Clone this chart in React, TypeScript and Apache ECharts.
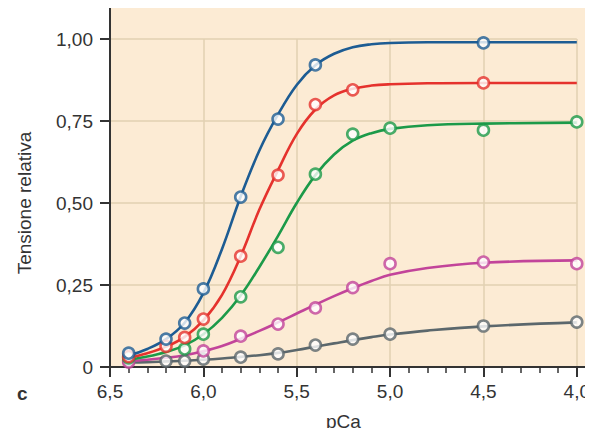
import React, { useEffect, useRef } from "react";
import * as echarts from "echarts";

// Tick labels
const xTickValues = [6.5, 6.0, 5.5, 5.0, 4.5, 4.0];
const yTickValues = [0, 0.25, 0.5, 0.75, 1.0];

// Fitted curve sample positions (pCa) and values
const curvePCa = [6.4, 6.3, 6.2, 6.1, 6.0, 5.9, 5.8, 5.7, 5.6, 5.5, 5.4, 5.3, 5.2, 5.1, 5.0, 4.8, 4.5, 4.0];
const blueCurve = [0.035, 0.055, 0.085, 0.135, 0.225, 0.36, 0.52, 0.66, 0.77, 0.86, 0.92, 0.955, 0.975, 0.984, 0.988, 0.99, 0.99, 0.99];
const redCurve = [0.028, 0.042, 0.062, 0.092, 0.142, 0.22, 0.338, 0.48, 0.6, 0.71, 0.785, 0.828, 0.848, 0.858, 0.862, 0.865, 0.866, 0.866];
const greenCurve = [0.022, 0.032, 0.046, 0.066, 0.1, 0.15, 0.218, 0.305, 0.4, 0.5, 0.585, 0.648, 0.69, 0.713, 0.726, 0.737, 0.742, 0.745];
const magentaCurve = [0.018, 0.022, 0.028, 0.036, 0.048, 0.064, 0.086, 0.11, 0.136, 0.163, 0.19, 0.216, 0.24, 0.262, 0.281, 0.302, 0.318, 0.325];
const grayCurve = [0.014, 0.015, 0.017, 0.019, 0.022, 0.026, 0.031, 0.036, 0.043, 0.052, 0.062, 0.072, 0.082, 0.091, 0.099, 0.111, 0.124, 0.136];

// Measured points
const bluePCa = [6.4, 6.2, 6.1, 6.0, 5.8, 5.6, 5.4, 4.5];
const blueValues = [0.042, 0.085, 0.134, 0.238, 0.518, 0.756, 0.921, 0.988];
const redPCa = [6.4, 6.2, 6.1, 6.0, 5.8, 5.6, 5.4, 5.2, 4.5];
const redValues = [0.032, 0.063, 0.09, 0.146, 0.338, 0.585, 0.8, 0.845, 0.866];
const greenPCa = [6.4, 6.1, 6.0, 5.8, 5.6, 5.4, 5.2, 5.0, 4.5, 4.0];
const greenValues = [0.028, 0.055, 0.1, 0.214, 0.365, 0.588, 0.71, 0.728, 0.722, 0.747];
const magentaPCa = [6.4, 6.0, 5.8, 5.6, 5.4, 5.2, 5.0, 4.5, 4.0];
const magentaValues = [0.015, 0.049, 0.094, 0.131, 0.18, 0.242, 0.315, 0.32, 0.315];
const grayPCa = [6.4, 6.2, 6.1, 6.0, 5.8, 5.6, 5.4, 5.2, 5.0, 4.5, 4.0];
const grayValues = [0.02, 0.018, 0.018, 0.024, 0.03, 0.04, 0.067, 0.085, 0.1, 0.125, 0.137];

const FONT = "'Liberation Sans', Arial, sans-serif";
const TEXT = "#333";

const groups = [
  { name: "grigio", color: "#5b676c", curve: grayCurve, px: grayPCa, py: grayValues },
  { name: "magenta", color: "#c2449a", curve: magentaCurve, px: magentaPCa, py: magentaValues },
  { name: "verde", color: "#1c9a49", curve: greenCurve, px: greenPCa, py: greenValues },
  { name: "rosso", color: "#e5322d", curve: redCurve, px: redPCa, py: redValues },
  { name: "blu", color: "#1d5c93", curve: blueCurve, px: bluePCa, py: blueValues },
];

const fmt = (v: number, d: number) => v.toFixed(d).replace(".", ",");

export default function App() {
  const ref = useRef<HTMLDivElement>(null);
  useEffect(() => {
    if (!ref.current) return;
    const chart = echarts.init(ref.current, undefined, { renderer: "svg" });
    const series: any[] = [];
    groups.forEach((g) => {
      series.push({
        type: "line",
        name: g.name + "-curve",
        data: curvePCa.map((x, i) => [x, g.curve[i]]),
        smooth: 0.4,
        showSymbol: false,
        symbol: "none",
        clip: false,
        lineStyle: { color: g.color, width: 2.6 },
        z: 3,
      });
    });
    groups.forEach((g) => {
      series.push({
        type: "scatter",
        name: g.name + "-punti",
        data: g.px.map((x, i) => [x, g.py[i]]),
        symbol: "circle",
        symbolSize: 11,
        clip: false,
        itemStyle: { color: "#ffffff", borderColor: g.color, borderWidth: 2.6 },
        z: 4,
      });
    });
    chart.setOption({
      animation: false,
      textStyle: { fontFamily: FONT },
      grid: { left: 110, right: 16, top: 39, bottom: 69, show: false },
      graphic: [
        { type: "rect", z: -10, shape: { x: 110, y: 5, width: 483, height: 362 }, style: { fill: "#fcebd4" } },
        { type: "line", z: 10, shape: { x1: 110, y1: 5, x2: 593, y2: 5 }, style: { stroke: "#8c8c8c", lineWidth: 2 } },
        { type: "line", z: 10, shape: { x1: 110, y1: 4, x2: 110, y2: 40 }, style: { stroke: "#333", lineWidth: 2 } },
        { type: "line", z: 10, shape: { x1: 576, y1: 367, x2: 593, y2: 367 }, style: { stroke: "#333", lineWidth: 2 } },
        { type: "text", x: 17, y: 384, style: { text: "c", font: `bold 19px ${FONT}`, fill: TEXT } },
      ],
      xAxis: {
        type: "value",
        inverse: true,
        min: 4.0,
        max: 6.5,
        interval: 0.5,
        name: "pCa",
        nameLocation: "middle",
        nameGap: 45,
        nameTextStyle: { fontSize: 19, color: TEXT, fontFamily: FONT },
        axisLine: { show: true, onZero: false, lineStyle: { color: "#333", width: 2 } },
        axisTick: { show: true, length: 10, lineStyle: { color: "#333", width: 2 } },
        minorTick: { show: true, splitNumber: 5, length: 6, lineStyle: { color: "#333", width: 1.5 } },
        axisLabel: {
          fontSize: 19,
          color: TEXT,
          margin: 15,
          fontFamily: FONT,
          formatter: (v: number) => (xTickValues.some((t) => Math.abs(t - v) < 1e-6) ? fmt(v, 1) : ""),
        },
        splitLine: { show: true, lineStyle: { color: "#e2d0b2", width: 1.5 } },
      },
      yAxis: {
        type: "value",
        min: 0,
        max: 1.0,
        interval: 0.25,
        name: "Tensione relativa",
        nameLocation: "middle",
        nameGap: 76,
        nameTextStyle: { fontSize: 19, color: TEXT, fontFamily: FONT },
        axisLine: { show: true, onZero: false, lineStyle: { color: "#333", width: 2 } },
        axisTick: { show: true, length: 10, lineStyle: { color: "#333", width: 2 } },
        axisLabel: {
          fontSize: 19,
          color: TEXT,
          margin: 17,
          fontFamily: FONT,
          formatter: (v: number) => (yTickValues.some((t) => Math.abs(t - v) < 1e-6) ? (v === 0 ? "0" : fmt(v, 2)) : ""),
        },
        splitLine: { show: true, lineStyle: { color: "#e2d0b2", width: 1.5 } },
      },
      series,
    });
    return () => chart.dispose();
  }, []);
  return <div ref={ref} style={{ width: 593, height: 436, margin: -8 }} />;
}
